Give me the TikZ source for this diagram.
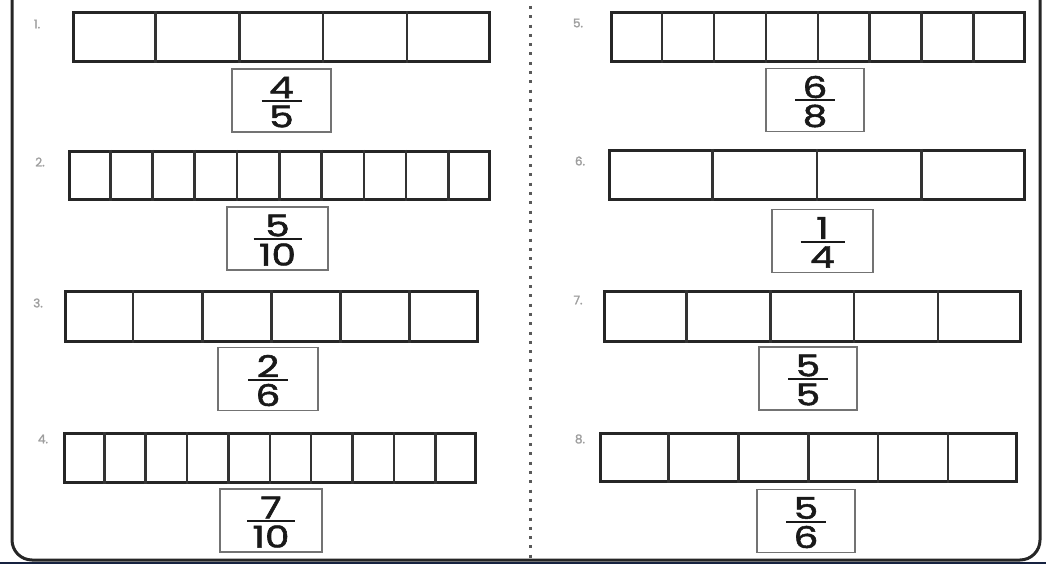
\documentclass[tikz,border=0pt]{standalone}
\usepackage{fontspec}
\setmainfont{Poppins}
\newfontfamily\digitfont{Poppins}[FakeBold=1.6]
\usetikzlibrary{calc}
\tikzset{
  stripbar/.style={draw=black!85,line width=2.6pt,inner sep=0pt,anchor=north west},
  divline/.style={draw=black!80,line width=2.6pt},
  fracframe/.style={draw=black!55,line width=1.8pt,inner sep=0pt,minimum height=63pt},
  digit/.style={font=\digitfont\fontsize{30}{30}\selectfont,inner sep=0pt,text=black!90},
  fracline/.style={draw=black!90,line width=2pt},
  numlbl/.style={font=\digitfont\fontsize{12}{12}\selectfont,text=black!38,inner sep=0pt},
  frame/.style={draw=black!85,line width=3pt,rounded corners=20pt},
  divider/.style={draw=black!65,line width=3pt,dash pattern=on 3pt off 6.3pt}
}
% #1 name, #2 x, #3 y, #4 width, #5 height, #6 parts
\newcommand\StripBar[6]{%
  \node[stripbar,minimum width=#4pt,minimum height=#5pt] (#1) at (#2,#3) {};
  \foreach \i in {1,...,\numexpr#6-1\relax}{%
    \draw[divline] ($(#1.north west)!\i/#6!(#1.north east)$) -- ($(#1.south west)!\i/#6!(#1.south east)$);
  }%
}
% #1 name, #2 cx, #3 cy, #4 width, #5 num, #6 den, #7 line half width
\newcommand\FracBox[7]{%
  \node[fracframe,minimum width=#4pt] (#1) at (#2,#3) {};
  \node[digit] (#1n) at ([yshift=13pt]#1.center) {\scalebox{1.3}[1]{#5}};
  \node[digit] (#1d) at ([yshift=-16pt]#1.center) {\scalebox{1.3}[1]{#6}};
  \coordinate (#1l) at ([xshift=-#7pt,yshift=-0.5pt]#1.center);
  \coordinate (#1r) at ([xshift=#7pt,yshift=-0.5pt]#1.center);
  \draw[fracline] (#1l) -- (#1r);
}
\begin{document}
\begin{tikzpicture}[x=1pt,y=-1pt]
\useasboundingbox (0,0) rectangle (1046,564);
% frame
\coordinate (ftl) at (12,-5);
\coordinate (fbl) at (12,560);
\coordinate (fbr) at (1040,560);
\coordinate (ftr) at (1040,-5);
\draw[frame] (ftl) -- (fbl) -- (fbr) -- (ftr);
\fill[fill={rgb,255:red,22;green,34;blue,64}] (0,562) rectangle (1046,564.5);
% divider
\coordinate (dtop) at (530,6);
\coordinate (dbot) at (530,558);
\draw[divider] (dtop) -- (dbot);
% bars
\StripBar{b1}{72}{11}{416}{49}{5}
\StripBar{b5}{610}{11}{413}{49}{8}
\StripBar{b2}{68}{150}{420}{48}{10}
\StripBar{b6}{608}{149}{415}{49}{4}
\StripBar{b3}{64}{290}{412}{50}{6}
\StripBar{b7}{603}{290}{416}{50}{5}
\StripBar{b4}{63}{432}{411}{49}{10}
\StripBar{b8}{599}{432}{416}{48}{6}
% fraction boxes
\FracBox{f1}{281.5}{100.5}{99}{4}{5}{20}
\FracBox{f2}{277.5}{238.5}{101}{5}{10}{24}
\FracBox{f3}{268}{379}{100}{2}{6}{20}
\FracBox{f4}{271}{520.5}{102}{7}{10}{24}
\FracBox{f5}{815}{100}{98}{6}{8}{20}
\FracBox{f6}{822.5}{241}{101}{1}{4}{22}
\FracBox{f7}{808}{378.5}{98}{5}{5}{20}
\FracBox{f8}{806}{521}{98}{5}{6}{20}
% labels
\node[numlbl] (l1) at (37,24) {1.};
\node[numlbl] (l2) at (40,162) {2.};
\node[numlbl] (l3) at (38,303) {3.};
\node[numlbl] (l4) at (43,439) {4.};
\node[numlbl] (l5) at (578,23) {5.};
\node[numlbl] (l6) at (580,161) {6.};
\node[numlbl] (l7) at (578,300) {7.};
\node[numlbl] (l8) at (580,439) {8.};
\end{tikzpicture}
\end{document}
